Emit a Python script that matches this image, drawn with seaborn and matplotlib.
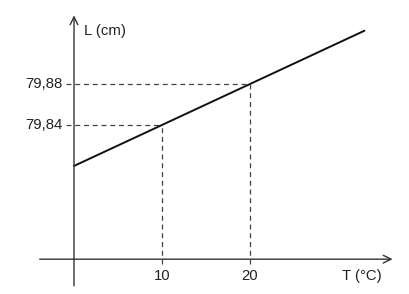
import matplotlib
matplotlib.use("Agg")
import matplotlib.pyplot as plt
import seaborn as sns
import pandas as pd

# Data
temps = [0, 10, 20, 33]
lengths = [79.80, 79.84, 79.88, 79.932]
x_ticks = [10, 20]
x_tick_labels = ["10", "20"]
y_ticks = [79.84, 79.88]
y_tick_labels = ["79,84", "79,88"]
x_label = "T (°C)"
y_label = "L (cm)"

sns.set_theme(style="white")
plt.rcParams['font.family'] = ['Liberation Sans', 'DejaVu Sans']

fig = plt.figure(figsize=(4.10, 2.94), dpi=100)
ax = fig.add_axes([0, 0, 1, 1])
ax.set_xlim(-8.41, 38.18)
ax.set_ylim(79.675, 79.962)
ax.axis("off")

y0 = 79.709  # level of horizontal axis
x0 = 0.0
axis_col = "#333333"
fs = 10.7

df = pd.DataFrame({"T": temps, "L": lengths})
sns.lineplot(data=df, x="T", y="L", ax=ax, color="#111111", linewidth=1.4)

# axes with arrows
ax.annotate("", xy=(36.2, y0), xytext=(-3.9, y0),
            arrowprops=dict(arrowstyle="->", color=axis_col, lw=1.0,
                            shrinkA=0, shrinkB=0, mutation_scale=14))
ax.annotate("", xy=(x0, 79.947), xytext=(x0, 79.683),
            arrowprops=dict(arrowstyle="->", color=axis_col, lw=1.0,
                            shrinkA=0, shrinkB=0, mutation_scale=14))

# dashed guides
for xt, yt in zip(x_ticks, y_ticks):
    ax.plot([-0.9, xt], [yt, yt], ls=(0, (4, 3)), color="#444444", lw=0.9)
    ax.plot([xt, xt], [y0 - 0.005, yt], ls=(0, (4, 3)), color="#444444", lw=0.9)

# tick labels
for xt, lab in zip(x_ticks, x_tick_labels):
    ax.text(xt, 79.693, lab, ha="center", va="center", fontsize=fs, color="#222222")
for yt, lab in zip(y_ticks, y_tick_labels):
    ax.text(-1.35, yt, lab, ha="right", va="center", fontsize=fs, color="#222222")

ax.text(1.1, 79.932, y_label, ha="left", va="center", fontsize=fs, color="#222222")
ax.text(30.5, 79.693, x_label, ha="left", va="center", fontsize=fs, color="#222222")

fig.savefig("out.png", dpi=100, facecolor="white")
